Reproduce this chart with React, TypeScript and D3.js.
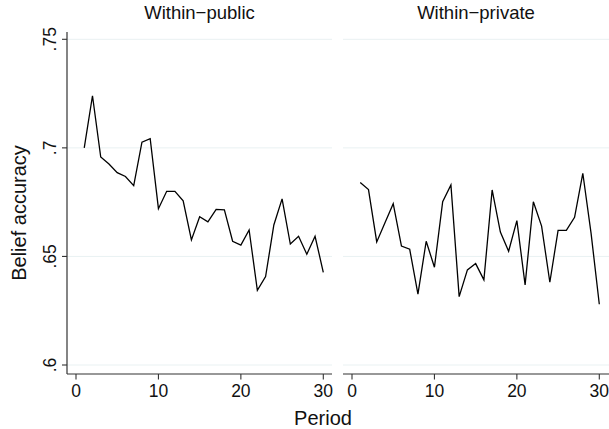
import React from "react";
import * as d3 from "d3";

const periods = d3.range(1, 31);
const publicVals = [
  0.700, 0.724, 0.6958, 0.6926, 0.6886, 0.6868, 0.6826, 0.7026, 0.7042, 0.672,
  0.680, 0.680, 0.6756, 0.6576, 0.6683, 0.6659, 0.6717, 0.6715, 0.657, 0.6552,
  0.6622, 0.6344, 0.6407, 0.6645, 0.6765, 0.6557, 0.6593, 0.651, 0.6593, 0.6427,
];
const privateVals = [
  0.684, 0.6808, 0.6567, 0.6655, 0.6743, 0.6548, 0.6533, 0.6326, 0.657, 0.645,
  0.6752, 0.6829, 0.6315, 0.6438, 0.6467, 0.6392, 0.6806, 0.6612, 0.6524, 0.6665,
  0.6369, 0.6752, 0.664, 0.6381, 0.662, 0.662, 0.668, 0.6883, 0.6607, 0.628,
];
const panelTitles = ["Within\u2212public", "Within\u2212private"];
const yTicks = [0.6, 0.65, 0.7, 0.75];
const yTickLabels = [".6", ".65", ".7", ".75"];
const xTicks = [0, 10, 20, 30];

const W = 609;
const H = 429;
const FONT = "'Liberation Sans', Arial, Helvetica, sans-serif";
const GRID = "#e9f1f2";

export default function App() {
  const top = 32;
  const bottom = 374;
  const y = d3.scaleLinear().domain([0.6, 0.75]).range([365, 39.3]);
  const panels = [
    { x0: 67, x1: 332, vals: publicVals, title: panelTitles[0], yAxis: true },
    { x0: 343, x1: 609, vals: privateVals, title: panelTitles[1], yAxis: false },
  ];
  const pxPerUnit = (323.3 - 76) / 30;

  return (
    <svg
      width={W}
      height={H}
      style={{ position: "absolute", left: 0, top: 0, background: "#fff" }}
      fontFamily={FONT}
    >
      <rect width={W} height={H} fill="#fff" />
      {panels.map((p, pi) => {
        const x = d3
          .scaleLinear()
          .domain([-9 / pxPerUnit, -9 / pxPerUnit + (p.x1 - p.x0) / pxPerUnit])
          .range([p.x0, p.x1]);
        const line = d3
          .line<number>()
          .x((_, i) => x(periods[i]))
          .y((d) => y(d));
        return (
          <g key={pi}>
            {yTicks.map((t) => (
              <line key={t} x1={p.x0} x2={p.x1} y1={y(t)} y2={y(t)} stroke={GRID} strokeWidth={1} />
            ))}
            <text
              x={(p.x0 + p.x1) / 2}
              y={18.5}
              textAnchor="middle"
              fontSize={18.5}
              fill="#111"
            >
              {p.title}
            </text>
            <line x1={p.x0} x2={p.x1} y1={bottom} y2={bottom} stroke="#333" strokeWidth={1.2} />
            {xTicks.map((t) => (
              <g key={t}>
                <line x1={x(t)} x2={x(t)} y1={bottom} y2={bottom + 5.5} stroke="#333" strokeWidth={1.1} />
                <text x={x(t)} y={396.5} textAnchor="middle" fontSize={17.5} fill="#111">
                  {t}
                </text>
              </g>
            ))}
            {p.yAxis && (
              <g>
                <line x1={p.x0} x2={p.x0} y1={top} y2={bottom} stroke="#333" strokeWidth={1.2} />
                {yTicks.map((t, i) => (
                  <g key={t}>
                    <line x1={p.x0 - 5} x2={p.x0} y1={y(t)} y2={y(t)} stroke="#333" strokeWidth={1.1} />
                    <text
                      transform={`translate(${55.5},${y(t)}) rotate(-90)`}
                      textAnchor="middle"
                      fontSize={17.5}
                      fill="#111"
                    >
                      {yTickLabels[i]}
                    </text>
                  </g>
                ))}
              </g>
            )}
            <path d={line(p.vals) || ""} fill="none" stroke="#000" strokeWidth={1.3} strokeLinejoin="miter" />
          </g>
        );
      })}
      <text
        transform={`translate(26,213) rotate(-90)`}
        textAnchor="middle"
        fontSize={20}
        fill="#111"
      >
        Belief accuracy
      </text>
      <text x={323} y={425} textAnchor="middle" fontSize={20} fill="#111">
        Period
      </text>
    </svg>
  );
}
